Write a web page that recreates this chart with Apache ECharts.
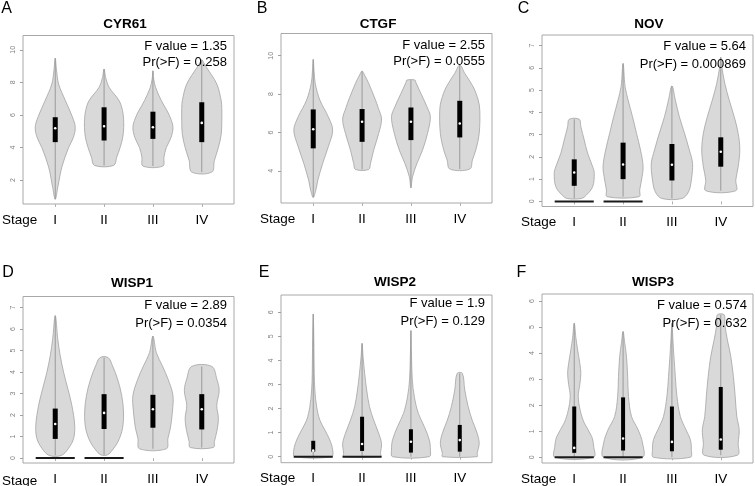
<!DOCTYPE html>
<html>
<head>
<meta charset="utf-8">
<script src="https://cdn.jsdelivr.net/npm/echarts@6/dist/echarts.min.js"></script>
<style>
html,body{margin:0;padding:0;background:#fff;}
#chart{width:755px;height:486px;}
</style>
</head>
<body>
<div id="chart"></div>
<script>
// ---------------- data ----------------
const stages = ['I', 'II', 'III', 'IV'];
const genes = ['CYR61', 'CTGF', 'NOV', 'WISP1', 'WISP2', 'WISP3'];
const panelLetters = ['A', 'B', 'C', 'D', 'E', 'F'];
const fValues = ['1.35', '2.55', '5.64', '2.89', '1.9', '0.574'];
const pValues = ['0.258', '0.0555', '0.000869', '0.0354', '0.129', '0.632'];
const yTickValues = [
  [2, 4, 6, 8, 10],
  [4, 6, 8, 10],
  [0, 1, 2, 3, 4, 5, 6, 7],
  [0, 1, 2, 3, 4, 5, 6, 7],
  [0, 1, 2, 3, 4, 5, 6],
  [0, 1, 2, 3, 4, 5, 6]
];

// violin outlines: [expression value, relative density width]
const cyr61Violins = [
  [[0.82,0],[1.57,0.13],[2.8,0.33],[4.0,0.67],[4.6,0.9],[5.24,1.0],[5.9,0.85],[6.9,0.5],[7.9,0.17],[8.8,0.06],[9.49,0]],
  [[2.9,0.48],[3.4,0.63],[4.0,0.8],[4.6,0.93],[5.24,0.98],[5.8,0.97],[6.27,0.92],[6.88,0.75],[7.7,0.25],[8.3,0.08],[8.82,0]],
  [[2.86,0.5],[3.4,0.55],[4.0,0.67],[4.6,0.9],[5.24,1.0],[5.8,0.88],[6.27,0.7],[6.88,0.42],[7.7,0.13],[8.2,0.04],[8.71,0]],
  [[2.49,0.5],[3.2,0.63],[4.0,0.83],[4.8,0.97],[5.6,1.0],[6.4,1.0],[6.88,0.97],[7.9,0.75],[8.9,0.25],[9.2,0.1],[9.39,0]]
];
const ctgfViolins = [
  [[2.61,0],[2.99,0.13],[3.51,0.23],[4.38,0.47],[5.25,0.75],[6.12,0.97],[6.82,0.75],[7.69,0.33],[8.56,0.1],[9.2,0.04],[9.81,0]],
  [[4.07,0.33],[4.38,0.42],[5.08,0.58],[5.95,0.83],[6.7,0.97],[7.3,0.8],[7.69,0.67],[8.56,0.33],[9.0,0.12],[9.2,0]],
  [[3.11,0],[3.69,0.08],[4.38,0.3],[5.08,0.58],[5.95,0.83],[6.82,0.97],[7.34,0.8],[8.03,0.5],[8.6,0.25],[8.73,0.2]],
  [[4.09,0.5],[4.56,0.63],[5.08,0.8],[5.95,0.97],[7.16,1.0],[7.69,0.92],[8.38,0.67],[9.08,0.25],[9.51,0]]
];
const novViolins = [
  [[0.13,0.35],[0.28,0.6],[0.66,0.92],[1.26,1.0],[1.56,0.92],[2.16,0.67],[2.76,0.5],[3.36,0.33],[3.69,0.25]],
  [[0.21,0.8],[0.51,0.83],[0.96,0.92],[1.56,1.0],[2.31,0.87],[3.06,0.67],[3.81,0.47],[4.56,0.25],[5.16,0.1],[6.2,0]],
  [[0.13,0.5],[0.43,0.83],[0.96,0.97],[1.71,1.03],[2.31,0.87],[3.06,0.63],[3.81,0.37],[4.56,0.17],[5.19,0]],
  [[0.48,0.75],[0.96,0.75],[1.56,0.87],[2.31,0.95],[3.06,0.87],[3.81,0.67],[4.56,0.42],[5.31,0.2],[6.06,0.05],[6.48,0]]
];
const wisp1Violins = [
  [[0.12,0.3],[0.46,0.67],[0.92,0.92],[1.53,0.97],[2.45,0.83],[3.22,0.63],[3.98,0.42],[4.75,0.25],[5.51,0.13],[6.62,0]],
  [[0.15,0.17],[0.38,0.42],[0.77,0.7],[1.38,0.92],[2.14,0.97],[2.91,0.88],[3.68,0.67],[4.29,0.42],[4.67,0.2]],
  [[0.43,0.67],[0.92,0.75],[1.38,0.87],[2.14,0.97],[2.91,1.0],[3.68,0.75],[4.29,0.47],[4.9,0.17],[5.67,0]],
  [[0.49,0.58],[0.77,0.63],[1.23,0.75],[1.84,0.83],[2.45,0.75],[3.14,0.87],[3.68,0.75],[4.26,0.5]]
];
const wisp2Violins = [
  [[0,0.92],[0.28,0.97],[0.69,0.83],[1.11,0.58],[1.52,0.33],[2.08,0.17],[2.77,0.08],[3.46,0.05],[4.85,0.03],[5.93,0]],
  [[0,0.92],[0.14,0.92],[0.55,0.97],[0.97,0.83],[1.52,0.58],[2.08,0.37],[2.77,0.23],[3.46,0.13],[4.15,0.05],[4.71,0]],
  [[0,0.92],[0.28,0.97],[0.69,0.92],[1.25,0.67],[1.8,0.37],[2.49,0.17],[3.19,0.07],[4.15,0.03],[5.24,0]],
  [[0,0.87],[0.14,0.87],[0.55,0.97],[0.97,0.87],[1.52,0.62],[2.08,0.42],[2.77,0.25],[3.46,0.13]]
];
const wisp3Violins = [
  [[0,0.97],[0.42,0.97],[0.8,0.87],[1.32,0.5],[1.8,0.3],[2.34,0.2],[2.8,0.28],[3.23,0.33],[3.6,0.28],[4.12,0.17],[4.6,0.08],[5.15,0]],
  [[0,0.97],[0.55,0.97],[1.06,0.75],[1.57,0.42],[2.34,0.27],[3.1,0.23],[3.87,0.17],[4.4,0.08],[4.83,0]],
  [[0,0.92],[0.29,0.97],[0.68,0.92],[1.06,0.7],[1.57,0.42],[2.34,0.25],[3.1,0.17],[3.87,0.1],[4.5,0.05],[5.15,0]],
  [[0.08,0.83],[0.55,0.87],[1.06,0.92],[1.57,0.8],[2.34,0.72],[3.1,0.63],[3.87,0.5],[4.51,0.33],[5.1,0.2],[5.47,0.17]]
];

// box stats per stage: [min, q1, median, q3, max]
const cyr61Box = [[0.82,4.33,5.18,5.86,9.49],[2.9,4.43,5.31,6.47,8.82],[2.86,4.53,5.24,6.2,8.71],[2.49,4.33,5.51,6.78,9.39]];
const ctgfBox  = [[2.61,5.17,6.17,7.2,9.81],[4.07,5.51,6.56,7.22,9.2],[3.11,5.6,6.56,7.3,8.73],[4.09,5.74,6.47,7.65,9.51]];
const novBox   = [[0.13,0.7,1.3,1.89,3.69],[0.21,1.0,1.66,2.64,6.2],[0.13,0.94,1.65,2.58,5.19],[0.48,1.56,2.23,2.88,6.48]];
const wisp1Box = [[0.12,0.89,1.58,2.3,6.62],[0.15,1.35,2.1,2.97,4.67],[0.43,1.41,2.27,2.94,5.67],[0.49,1.33,2.27,2.97,4.26]];
const wisp2Box = [[0,0.21,0.25,0.66,5.93],[0,0.24,0.53,1.66,4.71],[0,0.17,0.62,1.14,5.24],[0,0.21,0.69,1.32,3.46]];
const wisp3Box = [[0,0.17,0.36,1.95,5.15],[0,0.26,0.72,2.3,4.83],[0,0.23,0.59,1.95,5.15],[0.08,0.29,0.68,2.7,5.47]];

// stages with a cluster of zero-expression samples drawn at 0
const novZeros   = [1, 1, 0, 0];
const wisp1Zeros = [1, 1, 0, 0];
const wisp2Zeros = [1, 1, 0, 0];
const wisp3Zeros = [1, 1, 0, 0];
const cyr61Zeros = [0, 0, 0, 0];
const ctgfZeros  = [0, 0, 0, 0];

const allViolins = [cyr61Violins, ctgfViolins, novViolins, wisp1Violins, wisp2Violins, wisp3Violins];
const allBoxes = [cyr61Box, ctgfBox, novBox, wisp1Box, wisp2Box, wisp3Box];
const allZeros = [cyr61Zeros, ctgfZeros, novZeros, wisp1Zeros, wisp2Zeros, wisp3Zeros];

// ---------------- layout ----------------
const FONT = '"Liberation Sans", Arial, sans-serif';
const HW = 0.41;          // max violin half-width in stage units
const X_MIN = 0.34, X_MAX = 4.66;
const grids = [
  {left: 23,  top: 35.5, width: 211, height: 168.5, ymin: 0.53,  ymax: 10.88, boxW: 5},
  {left: 281, top: 33.5, width: 211, height: 169.5, ymin: 2.32,  ymax: 11.16, boxW: 5},
  {left: 542, top: 35,   width: 211, height: 171.5, ymin: -0.23, ymax: 7.48,  boxW: 5},
  {left: 23,  top: 296.5,width: 211, height: 168.5, ymin: -0.23, ymax: 7.51,  boxW: 5},
  {left: 281, top: 295,  width: 211, height: 167.7, ymin: -0.25, ymax: 6.72,  boxW: 4},
  {left: 542, top: 294,  width: 211, height: 169.5, ymin: -0.22, ymax: 6.27,  boxW: 4}
];
const letterPos = [[6.5,8.5],[262,8.5],[523.5,8.5],[8,273],[264,272.5],[521.5,273]];
const titlePos = [[125,23],[378,23],[649,23],[132,281.5],[395,281],[653,281]];
const statPos = [[227,46.5,62],[485,45,61.5],[746,46.5,64.5],[227,305,323],[485,303.5,321.5],[747,305,323]];

function makeRender(violins, boxes, zeros, boxW) {
  return function (params, api) {
    const i = params.dataIndex;
    const x = api.value(0);
    const prof = violins[i];
    const st = boxes[i];
    const right = prof.map(p => api.coord([x + p[1] * HW, p[0]]));
    const left = prof.slice().reverse().filter(p => p[1] > 0).map(p => api.coord([x - p[1] * HW, p[0]]));
    const pts = right.concat(left);
    const pMin = api.coord([x, st[0]]), pQ1 = api.coord([x, st[1]]);
    const pMed = api.coord([x, st[2]]), pQ3 = api.coord([x, st[3]]), pMax = api.coord([x, st[4]]);
    const children = [
      {type: 'polygon', shape: {points: pts, smooth: 0.35},
       style: {fill: '#d9d9d9', stroke: '#a3a3a3', lineWidth: 0.8}},
      {type: 'line', shape: {x1: pMin[0], y1: pMin[1], x2: pMax[0], y2: pMax[1]},
       style: {stroke: '#9a9a9a', lineWidth: 1}},
      {type: 'rect', shape: {x: pQ3[0] - boxW / 2, y: pQ3[1], width: boxW, height: pQ1[1] - pQ3[1]},
       style: {fill: '#000'}},
      {type: 'circle', shape: {cx: pMed[0], cy: pMed[1], r: 1.3}, style: {fill: '#fff'}}
    ];
    if (zeros[i]) {
      const a = api.coord([x - 0.4, 0]), b = api.coord([x + 0.4, 0]);
      children.push({type: 'line', shape: {x1: a[0], y1: a[1], x2: b[0], y2: b[1]},
        style: {stroke: '#1a1a1a', lineWidth: 2}});
    }
    return {type: 'group', children: children};
  };
}

const option = {
  backgroundColor: '#fff',
  animation: false,
  title: genes.map((g, k) => ({
    text: g, left: titlePos[k][0], top: titlePos[k][1] - 5.5, textAlign: 'center', padding: 0,
    textStyle: {fontFamily: FONT, fontSize: 13.5, fontWeight: 'bold', color: '#000'}
  })),
  grid: grids.map(g => ({left: g.left, top: g.top, width: g.width, height: g.height,
    show: true, borderColor: '#a8a8a8', borderWidth: 1, backgroundColor: 'transparent'})),
  xAxis: grids.map((g, k) => ({
    type: 'value', gridIndex: k, min: X_MIN, max: X_MAX,
    axisLine: {show: false}, splitLine: {show: false},
    axisTick: {show: true, customValues: [1, 2, 3, 4], length: 3, lineStyle: {color: '#b0b0b0'}},
    axisLabel: {show: true, customValues: [1, 2, 3, 4], margin: 9, formatter: v => stages[Math.round(v) - 1],
      fontFamily: FONT, fontSize: 13.5, color: '#000'}
  })),
  yAxis: grids.map((g, k) => ({
    type: 'value', gridIndex: k, min: g.ymin, max: g.ymax,
    axisLine: {show: false}, splitLine: {show: false},
    axisTick: {show: true, customValues: yTickValues[k], length: 3, lineStyle: {color: '#a0a0a0'}},
    axisLabel: {show: true, customValues: yTickValues[k], rotate: 90, margin: 6,
      fontFamily: FONT, fontSize: 7, color: '#808080'}
  })),
  series: grids.map((g, k) => ({
    type: 'custom', xAxisIndex: k, yAxisIndex: k, clip: false,
    renderItem: makeRender(allViolins[k], allBoxes[k], allZeros[k], g.boxW),
    data: stages.map((s, i) => [i + 1]),
    silent: true
  })),
  graphic: [].concat(
    panelLetters.map((l, k) => ({type: 'text', x: letterPos[k][0], y: letterPos[k][1],
      style: {text: l, font: '16px ' + FONT, fill: '#000', align: 'center', verticalAlign: 'middle'}})),
    grids.map((g, k) => ({type: 'text', x: g.left - 21, y: g.top + g.height + 16,
      style: {text: 'Stage', font: '13.5px ' + FONT, fill: '#000', align: 'left', verticalAlign: 'middle'}})),
    genes.map((g, k) => ({type: 'text', x: statPos[k][0], y: statPos[k][1], z: 10,
      style: {text: 'F value = ' + fValues[k], font: '13px ' + FONT, fill: '#000', align: 'right', verticalAlign: 'middle'}})),
    genes.map((g, k) => ({type: 'text', x: statPos[k][0], y: statPos[k][2], z: 10,
      style: {text: 'Pr(>F) = ' + pValues[k], font: '13px ' + FONT, fill: '#000', align: 'right', verticalAlign: 'middle'}}))
  )
};

const chart = echarts.init(document.getElementById('chart'), null, {renderer: 'canvas'});
chart.setOption(option);
</script>
</body>
</html>
